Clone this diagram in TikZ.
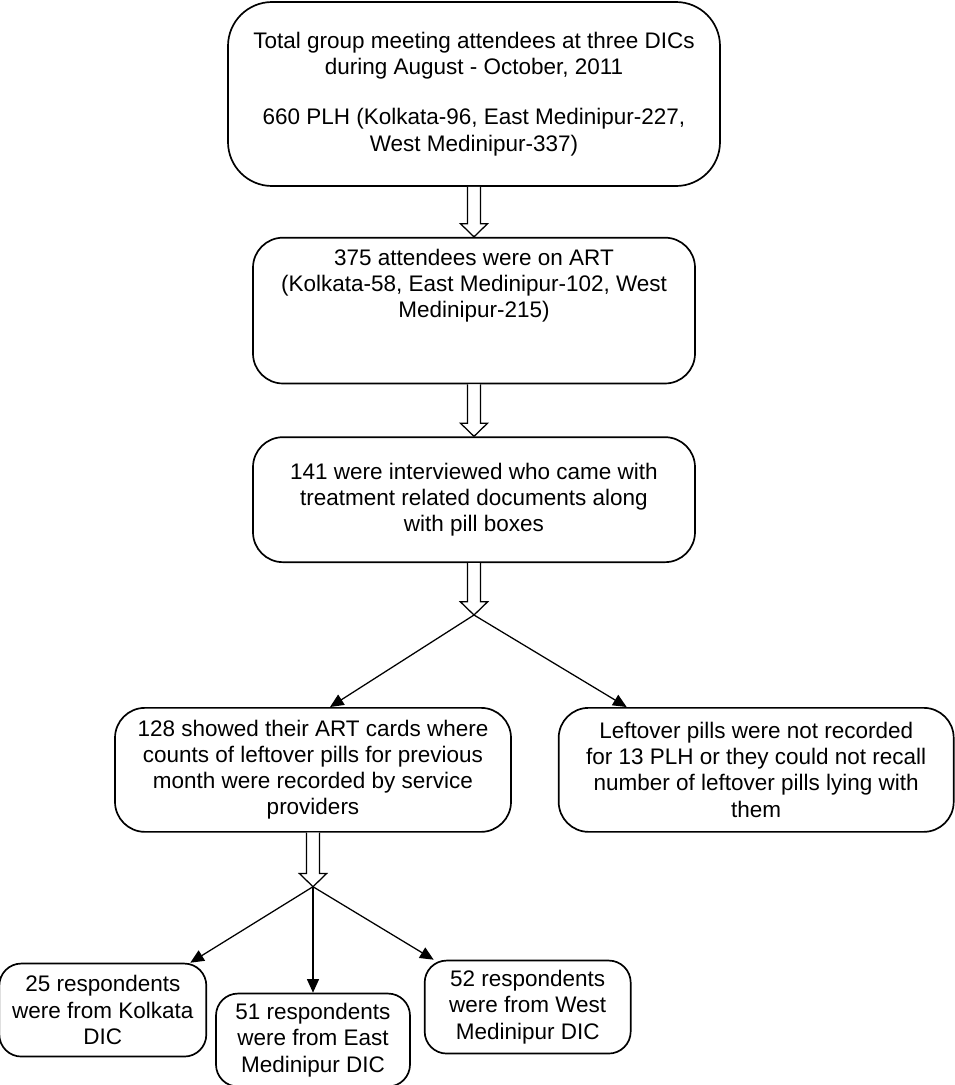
\documentclass[tikz,border=0pt]{standalone}
\usepackage{fontspec}
\setmainfont{Liberation Sans}
\usetikzlibrary{positioning, arrows.meta, calc}

\begin{document}
\begin{tikzpicture}[
        >={Triangle[length=0.34cm, width=0.3cm]},
        % Styles
        flowbox/.style={rectangle, draw, line width=1.2pt, rounded corners=0.75cm, align=center,
                font=\fontsize{16}{18.6}\selectfont, inner sep=0.19cm},
        topbox/.style={flowbox, rounded corners=1.1cm},
        sitebox/.style={flowbox, rounded corners=0.55cm, minimum height=2.325cm},
        arrow/.style={->, line width=0.9pt},
        fatarrow/.style={draw, line width=0.9pt, fill=white, to path={
                ($(\tikztostart)+(-0.16,0)$) -- ($(\tikztotarget)+(-0.16,0.33)$)
                -- ($(\tikztotarget)+(-0.34,0.33)$) -- (\tikztotarget)
                -- ($(\tikztotarget)+(0.34,0.33)$) -- ($(\tikztotarget)+(0.16,0.33)$)
                -- ($(\tikztostart)+(0.16,0)$)}},
    ]
        \useasboundingbox (0,0) rectangle (23.875,-27.125);

        % === MAIN CHAIN ===
        \node[topbox, minimum width=12.3cm, minimum height=4.6cm] (total) at (11.85,-2.35)
            {Total group meeting attendees at three DICs\\during August - October, 2011\\[0.6cm]
             660 PLH (Kolkata-96, East Medinipur-227,\\West Medinipur-337)};
        \node[flowbox, minimum width=11.05cm, inner ysep=0.29cm, below=1.25cm of total] (onart)
            {375 attendees were on ART\\(Kolkata-58, East Medinipur-102, West\\Medinipur-215)\rule[-1.35cm]{0pt}{0pt}};
        \node[flowbox, minimum width=11.05cm, minimum height=3.125cm, below=1.3cm of onart] (interviewed)
            {141 were interviewed who came with\\treatment related documents along\\with pill boxes};

        % === SPLIT ===
        \coordinate[below=1.3cm of interviewed.south] (split);
        \node[flowbox, minimum width=9.9cm, minimum height=3.1cm, below=3.6cm of interviewed.south, xshift=-4.025cm] (cards)
            {128 showed their ART cards where\\counts of leftover pills for previous\\month were recorded by service\\providers};
        \node[flowbox, minimum width=9.875cm, minimum height=3.1cm, right=1.15cm of cards] (notrec)
            {Leftover pills were not recorded\\for 13 PLH or they could not recall\\number of leftover pills lying with\\them};

        % === SITES ===
        \coordinate[below=1.35cm of cards.south] (split2);
        \node[sitebox, minimum width=4.85cm, below=4cm of cards.south] (east)
            {51 respondents\\were from East\\Medinipur DIC};
        \node[sitebox, minimum width=5.175cm, left=0.2cm of east, yshift=0.75cm] (kolkata)
            {25 respondents\\were from Kolkata\\DIC};
        \node[sitebox, minimum width=5.15cm, right=0.325cm of east, yshift=0.825cm] (west)
            {52 respondents\\were from West\\Medinipur DIC};

        % Connections
        \draw[fatarrow] (total.south) to (onart.north);
        \draw[fatarrow] (onart.south) to (interviewed.north);
        \draw[fatarrow] (interviewed.south) to (split);
        \draw[arrow] (split) -- ([xshift=0.425cm]cards.north);
        \draw[arrow] (split) -- ([xshift=-3.2375cm]notrec.north);
        \draw[fatarrow] (cards.south) to (split2);
        \draw[arrow] (split2) -- ([xshift=2.1875cm]kolkata.north);
        \draw[arrow] (split2) -- (east.north);
        \draw[arrow] (split2) -- ([xshift=-2.35cm]west.north);

    \end{tikzpicture}
\end{document}
